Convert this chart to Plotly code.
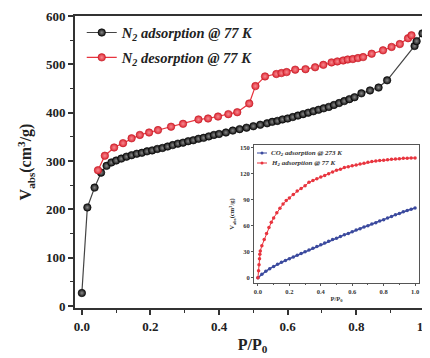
import plotly.graph_objects as go

# ---- main plot data: N2 isotherms at 77 K ----
ads_x = [0.0, 0.016, 0.037, 0.056, 0.072, 0.086, 0.100, 0.115, 0.130, 0.145, 0.160, 0.175,
         0.190, 0.205, 0.220, 0.235, 0.250, 0.265, 0.280, 0.295, 0.310, 0.325, 0.340, 0.355,
         0.370, 0.385, 0.400, 0.420, 0.440, 0.460, 0.480, 0.500, 0.520, 0.540, 0.555, 0.570,
         0.585, 0.600, 0.615, 0.630, 0.645, 0.660, 0.675, 0.690, 0.705, 0.720, 0.735, 0.750,
         0.765, 0.780, 0.795, 0.815, 0.840, 0.865, 0.890, 0.970, 0.976, 0.993]
ads_y = [27, 204, 245, 276, 290, 297, 301, 305, 309, 312, 315, 317,
         320, 322, 325, 327, 330, 333, 336, 338, 341, 343, 346, 348,
         351, 354, 356, 359, 363, 366, 369, 372, 375, 378, 381, 383,
         386, 388, 391, 394, 397, 400, 403, 406, 409, 412, 416, 420,
         424, 428, 432, 440, 446, 452, 467, 538, 548, 564]

des_x = [0.047, 0.067, 0.094, 0.120, 0.145, 0.169, 0.196, 0.222, 0.260, 0.295, 0.340, 0.368,
         0.397, 0.427, 0.453, 0.488, 0.506, 0.534, 0.567, 0.582, 0.597, 0.622, 0.652, 0.680,
         0.704, 0.728, 0.745, 0.762, 0.775, 0.790, 0.805, 0.820, 0.845, 0.878, 0.903, 0.927,
         0.951, 0.961]
des_y = [281, 311, 328, 337, 347, 354, 359, 364, 371, 377, 386, 388,
         392, 397, 401, 419, 455, 475, 480, 482, 484, 489, 490, 494,
         499, 504, 506, 508, 510, 511, 513, 515, 522, 529, 536, 542,
         554, 560]

# ---- inset data ----
co2_x = [0.000, 0.025, 0.050, 0.075, 0.100, 0.125, 0.150, 0.175, 0.200, 0.225, 0.250, 0.275,
         0.300, 0.325, 0.350, 0.375, 0.400, 0.425, 0.450, 0.475, 0.500, 0.525, 0.550, 0.575,
         0.600, 0.625, 0.650, 0.675, 0.700, 0.725, 0.750, 0.775, 0.800, 0.825, 0.850, 0.875,
         0.900, 0.925, 0.950, 0.975, 1.000]
co2_y = [0, 4, 7.5, 10.5, 13, 15.5, 18, 20, 22, 24, 26, 28,
         30, 32, 34, 36, 38, 40, 42, 44, 45.5, 47.5, 49.5, 51,
         53, 55, 56.5, 58.5, 60, 62, 63.5, 65.5, 67, 69, 70.5, 72.5,
         74, 76, 77.5, 79, 80.5]

h2_x = [0.000, 0.004, 0.007, 0.010, 0.012, 0.015, 0.025, 0.040, 0.055, 0.070, 0.085, 0.100,
        0.120, 0.140, 0.160, 0.180, 0.200, 0.225, 0.250, 0.275, 0.300, 0.325, 0.350, 0.375,
        0.400, 0.425, 0.450, 0.475, 0.500, 0.525, 0.550, 0.575, 0.600, 0.625, 0.650, 0.675,
        0.700, 0.725, 0.750, 0.775, 0.800, 0.825, 0.850, 0.875, 0.900, 0.925, 0.950, 0.975,
        1.000]
h2_y = [0, 8, 15, 22, 27, 31, 37, 44, 51, 58, 64, 69,
        75, 80, 85, 89, 92, 96, 100, 103, 106, 110, 112, 114,
        116, 118, 120, 122, 124, 125, 127, 128, 129, 130, 131, 132,
        133, 134, 134.5, 135, 135.5, 136, 136.5, 137, 137.3, 137.6, 137.8, 138,
        138]

x_ticks = [0.0, 0.2, 0.4, 0.6, 0.8, 1.0]
x_ticklabels = ["0.0", "0.2", "0.4", "0.6", "0.8", "1.0"]
y_ticks = [0, 100, 200, 300, 400, 500, 600]
y2_ticks = [0, 30, 60, 90, 120, 150]

inset_names = ["CO<sub>2</sub> adsorption @ 273 K", "H<sub>2</sub> adsorption @ 77 K"]
inset_colors = ["#3b4a9e", "#e8343e"]

SERIF = "Liberation Serif"
AX = "#333333"

# page has an 8px body margin; figure is sized to fit the 430x358 window exactly
FIG_W, FIG_H = 422, 350
ML, MR, MT, MB = 67, 0, 8, 50
PLOT_W = FIG_W - ML - MR
PLOT_H = FIG_H - MT - MB

fig = go.Figure()

fig.add_trace(go.Scatter(
    x=ads_x, y=ads_y, mode="lines+markers",
    name="N<sub>2</sub> adsorption @ 77 K", legendgroup="a",
    line=dict(color="#444444", width=1.2),
    marker=dict(size=7.5, color="#111111", line=dict(color="#000000", width=0.6),
                gradient=dict(type="radial", color="#8a8a8a")),
))
fig.add_trace(go.Scatter(
    x=des_x, y=des_y, mode="lines+markers",
    name="N<sub>2</sub> desorption @ 77 K", legendgroup="b",
    line=dict(color="#e8343e", width=1.2),
    marker=dict(size=7.5, color="#e02a36", line=dict(color="#c01822", width=0.6),
                gradient=dict(type="radial", color="#f58a90")),
))

fig.add_trace(go.Scatter(
    x=co2_x, y=co2_y, mode="lines+markers", xaxis="x2", yaxis="y2",
    name=inset_names[0], showlegend=False,
    line=dict(color=inset_colors[0], width=1.5),
    marker=dict(size=3.5, color=inset_colors[0]),
))
fig.add_trace(go.Scatter(
    x=h2_x, y=h2_y, mode="lines+markers", xaxis="x2", yaxis="y2",
    name=inset_names[1], showlegend=False,
    line=dict(color=inset_colors[1], width=1),
    marker=dict(size=3.5, color=inset_colors[1]),
))

# window pixel -> paper coordinates (plot area spans window x 75..430, y 16..308)
def px2paper(px, py):
    return (px - 75) / PLOT_W, (308 - py) / PLOT_H

shapes = []
annotations = []
for i, (nm, col) in enumerate(zip(inset_names, inset_colors)):
    py = 153 + 10 * i
    x0, yy = px2paper(257, py)
    x1, _ = px2paper(267, py)
    shapes.append(dict(type="line", xref="paper", yref="paper", x0=x0, x1=x1, y0=yy, y1=yy,
                       line=dict(color=col, width=1)))
    cx, _ = px2paper(262, py)
    shapes.append(dict(type="circle", xref="paper", yref="paper",
                       x0=cx - 1.5 / PLOT_W, x1=cx + 1.5 / PLOT_W,
                       y0=yy - 1.5 / PLOT_H, y1=yy + 1.5 / PLOT_H,
                       fillcolor=col, line=dict(color=col, width=0)))
    tx, _ = px2paper(269, py)
    annotations.append(dict(xref="paper", yref="paper", x=tx, y=yy, xanchor="left", yanchor="middle",
                            text=nm, showarrow=False,
                            font=dict(family=SERIF, size=7, color="#333", weight="bold", style="italic")))

ix0, iy1 = px2paper(254, 145)
ix1, iy0 = px2paper(419, 283)

tickfont = dict(family=SERIF, size=13, color="#222", weight="bold")
smallfont = dict(family=SERIF, size=6.5, color="#333", weight="bold")

fig.update_layout(
    width=FIG_W, height=FIG_H,
    margin=dict(l=ML, r=MR, t=MT, b=MB, autoexpand=False),
    paper_bgcolor="white", plot_bgcolor="white",
    shapes=shapes, annotations=annotations,
    xaxis=dict(
        domain=[0, 1], range=[-0.02, 1.015], automargin=False, ticklabeloverflow="allow",
        tickvals=x_ticks, ticktext=x_ticklabels, tickfont=tickfont,
        ticks="outside", ticklen=5, tickwidth=1.5, tickcolor=AX,
        minor=dict(tickvals=[0.1, 0.3, 0.5, 0.7, 0.9], ticks="outside", ticklen=3,
                   tickwidth=1.2, tickcolor=AX),
        showline=True, linewidth=2, linecolor=AX, mirror=True,
        showgrid=False, zeroline=False,
        title=dict(text="P/P<sub>0</sub>", standoff=6,
                   font=dict(family=SERIF, size=16, color="#222", weight="bold")),
    ),
    yaxis=dict(
        domain=[0, 1], range=[-4, 600], automargin=False, ticklabeloverflow="allow",
        tickvals=y_ticks, tickfont=tickfont,
        ticks="outside", ticklen=5, tickwidth=1.5, tickcolor=AX,
        minor=dict(tickvals=[50, 150, 250, 350, 450, 550], ticks="outside", ticklen=3,
                   tickwidth=1.2, tickcolor=AX),
        showline=True, linewidth=2, linecolor=AX, mirror=False,
        showgrid=False, zeroline=False,
        title=dict(text="V<sub>abs</sub>(cm<sup>3</sup>/g)", standoff=10,
                   font=dict(family=SERIF, size=16, color="#222", weight="bold")),
    ),
    xaxis2=dict(
        domain=[ix0, ix1], range=[-0.025, 1.025], anchor="y2", automargin=False,
        tickvals=x_ticks, ticktext=x_ticklabels, tickfont=smallfont,
        ticks="outside", ticklen=2, tickwidth=0.8, tickcolor="#555",
        minor=dict(tickvals=[0.1, 0.3, 0.5, 0.7, 0.9], ticks="outside", ticklen=1.5,
                   tickwidth=0.6, tickcolor="#555"),
        showline=True, linewidth=0.8, linecolor="#555", mirror=True,
        showgrid=False, zeroline=False,
        title=dict(text="P/P<sub>0</sub>", standoff=2, font=smallfont),
    ),
    yaxis2=dict(
        domain=[iy0, iy1], range=[-6, 153], anchor="x2", automargin=False,
        tickvals=y2_ticks, tickfont=smallfont,
        ticks="outside", ticklen=2, tickwidth=0.8, tickcolor="#555",
        showline=True, linewidth=0.8, linecolor="#555", mirror=True,
        showgrid=False, zeroline=False,
        title=dict(text="V<sub>abs</sub>(cm<sup>3</sup>/g)", standoff=4, font=smallfont),
    ),
    legend=dict(
        x=0.019, y=0.998, xanchor="left", yanchor="top",
        bgcolor="rgba(0,0,0,0)", borderwidth=0, tracegroupgap=3,
        font=dict(family=SERIF, size=14.5, color="#222", weight="bold", style="italic"),
    ),
    showlegend=True,
)

fig.write_html("out.html")
